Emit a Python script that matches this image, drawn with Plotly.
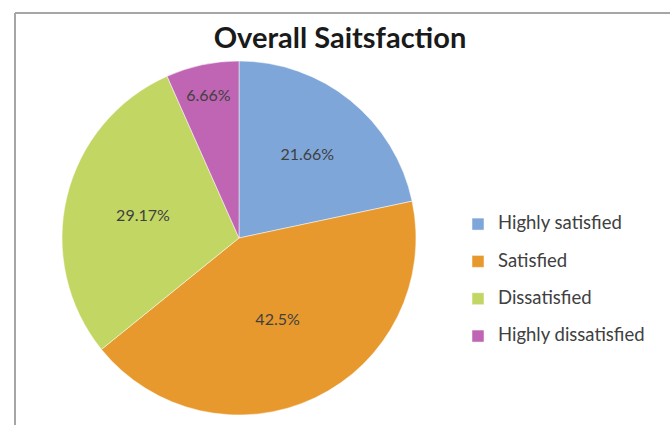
import plotly.graph_objects as go

labels = ["Highly satisfied", "Satisfied", "Dissatisfied", "Highly dissatisfied"]
values = [21.66, 42.5, 29.17, 6.66]
text_labels = ["21.66%", "42.5%", "29.17%", "6.66%"]
colors = ["#7EA6D8", "#E8992E", "#C2D664", "#C064B4"]

W, H = 670, 425
cx, cy, r = 239, 238, 177

# legend entries: larger text on the first line, an empty second line for Excel-like spacing
legend_names = [f"<span style='font-size:18.5px'>{l}</span><br> " for l in labels]

fig = go.Figure(go.Pie(
    labels=legend_names,
    values=values,
    text=text_labels,
    hovertext=labels,
    textinfo="text",
    textposition="inside",
    insidetextorientation="horizontal",
    sort=False,
    direction="clockwise",
    rotation=0,
    marker=dict(colors=colors, line=dict(color="white", width=0.5)),
    textfont=dict(family="Lato, sans-serif", size=16, color="#404040"),
    domain=dict(x=[(cx - r) / W, (cx + r) / W], y=[1 - (cy + r) / H, 1 - (cy - r) / H]),
    hoverinfo="text+percent",
))

fig.update_layout(
    width=W, height=H,
    margin=dict(l=0, r=0, t=0, b=0),
    paper_bgcolor="white",
    plot_bgcolor="white",
    title=dict(text="<b>Overall Saitsfaction</b>", x=340 / W, xanchor="center",
               y=1 - 38 / H, yanchor="middle",
               font=dict(family="Lato, sans-serif", size=29, color="#1a1a1a")),
    legend=dict(x=458 / W, xanchor="left", y=1 - 209 / H, yanchor="top",
                font=dict(family="Lato, sans-serif", size=13.2, color="#404040"),
                valign="top",
                itemwidth=30, bgcolor="rgba(0,0,0,0)"),
    shapes=[
        dict(type="line", xref="paper", yref="paper", x0=15 / W, x1=1.0, y0=1 - 13 / H, y1=1 - 13 / H,
             line=dict(color="#A6A6A6", width=2)),
        dict(type="line", xref="paper", yref="paper", x0=15 / W, x1=15 / W, y0=0, y1=1 - 13 / H,
             line=dict(color="#A6A6A6", width=2)),
    ],
)

fig.write_html("out.html")
